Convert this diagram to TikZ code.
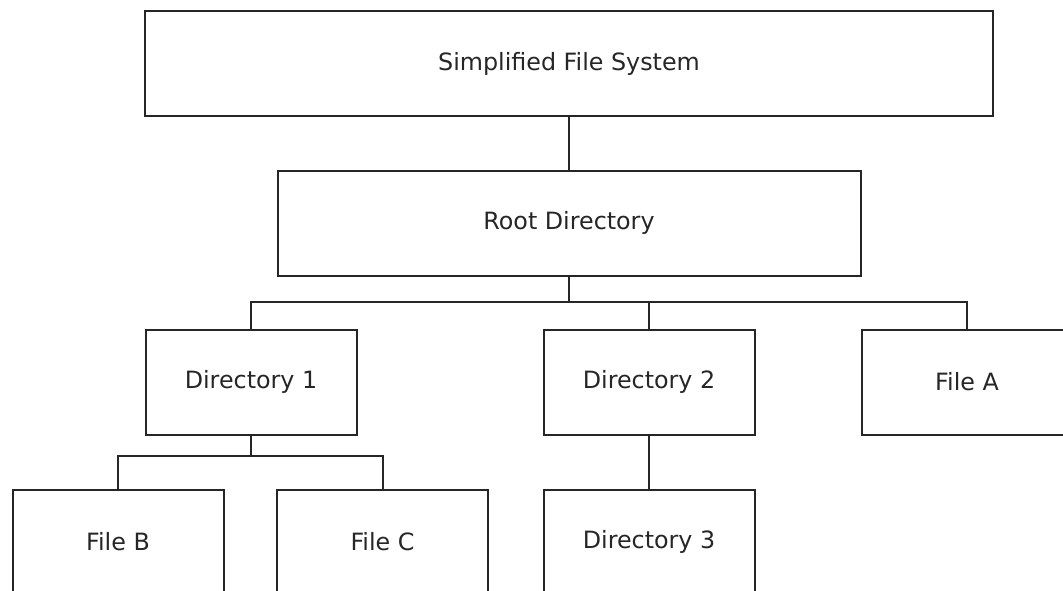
\documentclass[tikz,border=0pt]{standalone}
\usepackage{fontspec}
\setmainfont{DejaVu Sans}
\usepackage{tikz}
\usetikzlibrary{positioning}
\tikzset{box/.style={rectangle,draw,line width=1pt,minimum width=105.5pt,minimum height=52.5pt,inner sep=0pt,text=black!85,font=\fontsize{11.9}{14}\selectfont}}

\begin{document}
\begin{tikzpicture}[x=0.5pt,y=-0.5pt,line width=1pt,draw=black!85]
    \useasboundingbox (0,0) rectangle (1063,590);
    \clip (0,0) rectangle (1063,590);

    \node[box,minimum width=424pt] (fs) at (569,63.5) {Simplified File System};
    \node[box,minimum width=291.5pt] (root) at (569,223) {Root Directory};
    \node[box] (d1) at (251,382) {Directory 1};
    \node[box] (d2) at (649,382) {Directory 2};
    \node[box] (fa) at (967,382) {File A};
    \node[box] (fb) at (118,542) {File B};
    \node[box] (fc) at (382.5,542) {File C};
    \node[box] (d3) at (649,542) {Directory 3};

    \coordinate (j1) at (569,302);
    \coordinate (j2) at (251,456);

    \draw (fs) -- (root);
    \draw (root) -- (j1);
    \draw (j1) -| (d1);
    \draw (j1) -| (d2);
    \draw (j1) -| (fa);
    \draw (d1) -- (j2);
    \draw (j2) -| (fb);
    \draw (j2) -| (fc);
    \draw (d2) -- (d3);
\end{tikzpicture}
\end{document}
